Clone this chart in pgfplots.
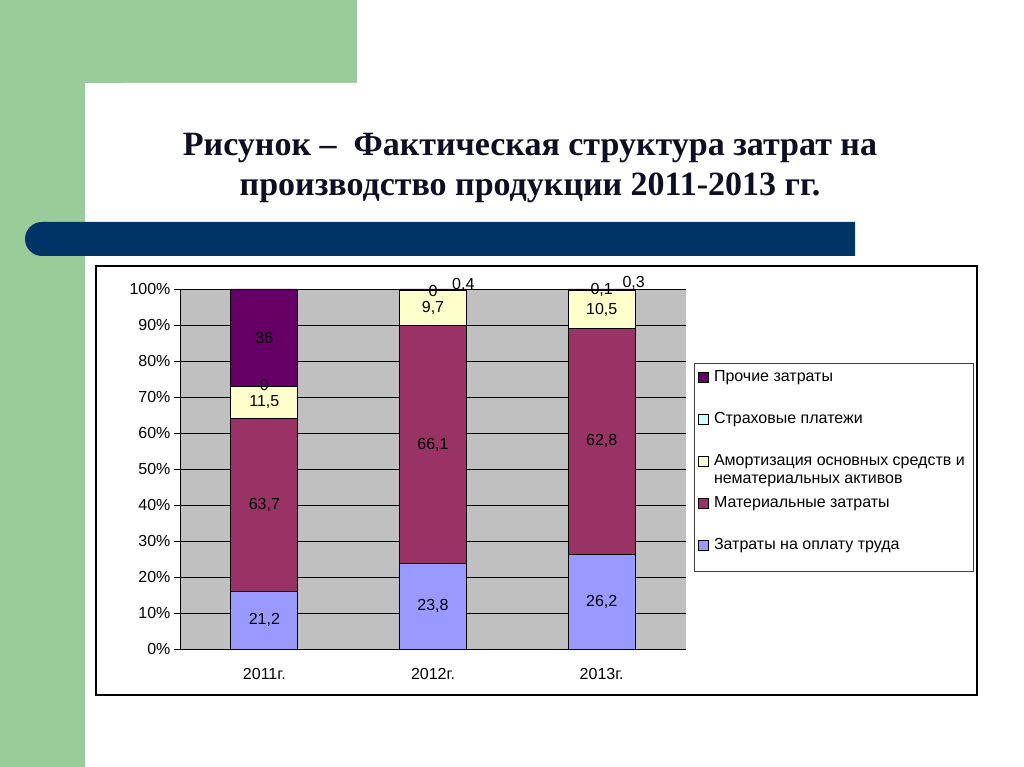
\documentclass[border=0pt]{standalone}
\usepackage{pgfplots}
\usepackage{pgfplotstable}
\pgfplotsset{compat=1.18}
\usepackage{fontspec}
\setmainfont{Liberation Sans}
\newfontfamily\titlefont{Liberation Serif}
\definecolor{slidegreen}{HTML}{99CC99}
\definecolor{slidenavy}{HTML}{003366}
\definecolor{titlecol}{HTML}{0E0E24}
\definecolor{plotgray}{HTML}{C0C0C0}
\definecolor{cTrud}{HTML}{9999FF}
\definecolor{cMat}{HTML}{993366}
\definecolor{cAm}{HTML}{FFFFCC}
\definecolor{cStr}{HTML}{CCFFFF}
\definecolor{cPr}{HTML}{660066}

% shares normalised to 100% per year
\pgfplotstableread{
x trud mat am str pr
0 16.012 48.112 8.686 0.000 27.190
1 23.800 66.100 9.700 0.000 0.400
2 26.226 62.863 10.511 0.100 0.300
}\data
% data labels (original values) and their positions
\pgfplotstableread{
x y l
0 8.0 21,2
0 40.1 63,7
0 68.5 11,5
0 73.3 0
0 86.4 36
1 12.0 23,8
1 56.6 66,1
1 94.7 9,7
1 99.5 0
1.18 101.2 0,4
2 13.2 26,2
2 57.7 62,8
2 94.3 10,5
2 99.6 0,1
2.19 101.8 0,3
}\labels

\begin{document}
\begin{tikzpicture}[x=1pt,y=1pt]
\useasboundingbox (0,0) rectangle (1024,767);
\fill[white] (0,0) rectangle (1024,767);
\fill[slidegreen] (0,684) rectangle (357,767);
\fill[slidegreen] (0,0) rectangle (85,767);
\begin{scope}
\clip (0,0) rectangle (1024,767);
\fill[white, rounded corners=40pt] (85,684) rectangle (1300,-300);
\end{scope}
\fill[slidenavy] (855,511) -- (42,511) arc[start angle=270,end angle=90,radius=17] -- (855,545) -- cycle;
\node[font=\titlefont\bfseries\fontsize{34}{40}\selectfont, align=center, text=titlecol, inner sep=0pt] at (530,599)
  {Рисунок –\ \ Фактическая структура затрат на\\ производство продукции 2011-2013 гг.};
\draw[black, line width=1.4pt, fill=white] (96,72) rectangle (977,501);
\draw[black!75, line width=1pt] (694,403) rectangle (973,195);

\begin{axis}[
  at={(180pt,118pt)}, anchor=south west,
  scale only axis, width=506pt, height=360pt,
  ybar stacked, bar width=67pt,
  xmin=-0.5, xmax=2.5, ymin=0, ymax=100,
  axis lines*=left,
  axis line style={black, line width=0.8pt},
  axis background/.style={fill=plotgray},
  /pgf/number format/assume math mode=true,
  xtick={0,1,2}, xticklabels={2011г.,2012г.,2013г.},
  xtick style={draw=none},
  extra x ticks={-0.5,0.5,1.5,2.5}, extra x tick labels={},
  extra x tick style={major tick style={black, line width=0.8pt}, grid=none},
  ytick={0,10,...,100},
  yticklabel={\pgfmathprintnumber{\tick}\%},
  ymajorgrids, grid style={black, line width=0.8pt},
  tick align=outside, major tick length=6pt,
  tick style={black, line width=0.8pt},
  ticklabel style={font=\fontsize{16}{18}\selectfont},
  x tick label style={yshift=-10pt},
  every axis plot/.append style={draw=black, line width=0.8pt},
  legend image code/.code={\draw[#1, draw=black, line width=0.8pt] (0pt,-5pt) rectangle (10pt,5pt);},
  reverse legend,
  legend cell align=left,
  legend style={at={(axis description cs:1.0158,0.7944)}, anchor=north west, draw=none, fill=none,
    font=\fontsize{16}{18}\selectfont, row sep=26pt, column sep=3pt, inner xsep=4pt, inner ysep=6pt,
    nodes={text height=12pt, text depth=4pt, inner ysep=0pt}},
]
\addplot[fill=cTrud] table[x=x, y=trud] {\data};
\addlegendentry{Затраты на оплату труда}
\addplot[fill=cMat] table[x=x, y=mat] {\data};
\addlegendentry{Материальные затраты}
\addplot[fill=cAm] table[x=x, y=am] {\data};
\addlegendentry{\begin{tabular}[t]{@{}l@{}}Амортизация основных средств и\\нематериальных активов\end{tabular}}
\addplot[fill=cStr] table[x=x, y=str] {\data};
\addlegendentry{Страховые платежи}
\addplot[fill=cPr] table[x=x, y=pr] {\data};
\addlegendentry{Прочие затраты}
\end{axis}

\begin{axis}[
  at={(180pt,118pt)}, anchor=south west,
  scale only axis, width=506pt, height=360pt,
  xmin=-0.5, xmax=2.5, ymin=0, ymax=100,
  hide axis, clip=false,
]
\addplot[draw=none, mark=none, nodes near coords, point meta=explicit symbolic,
  nodes near coords style={anchor=center, font=\fontsize{16}{18}\selectfont, text=black}]
  table[x=x, y=y, meta=l] {\labels};
\end{axis}
\end{tikzpicture}
\end{document}
